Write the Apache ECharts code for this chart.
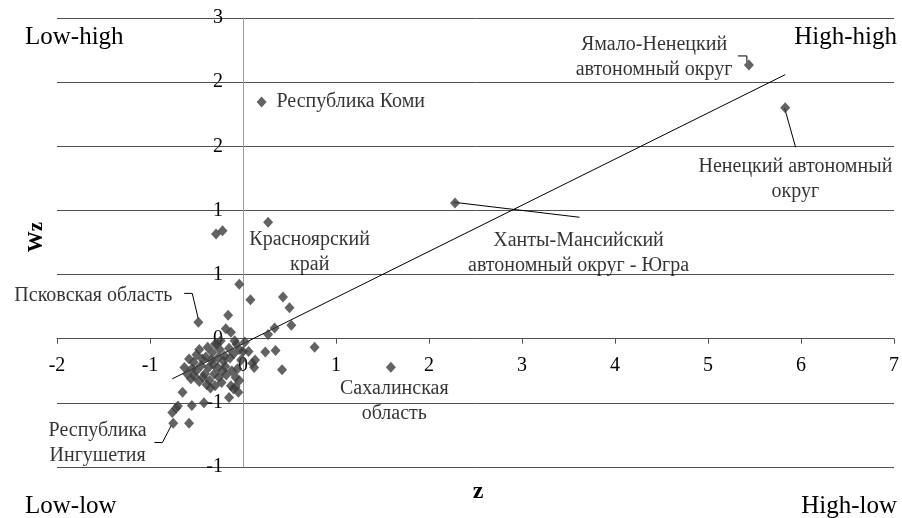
<!DOCTYPE html>
<html>
<head>
<meta charset="utf-8">
<script src="https://cdn.jsdelivr.net/npm/echarts@6/dist/echarts.min.js"></script>
<style>
html,body{margin:0;padding:0;background:#fff;}
#chart{width:902px;height:518px;}
</style>
</head>
<body>
<div id="chart"></div>
<script>
// ---- data ----
const zValues = [
  5.44, 5.83, 2.28, 0.20, 0.27, -0.48, 1.59, -0.75,
  -0.29, -0.22, -0.04, 0.08, 0.43, 0.50, 0.52, 0.34, 0.27,
  0.24, 0.35, 0.77, 0.42, 0.10, 0.13, 0.06,
  -0.16, -0.185, -0.13, -0.24, -0.07, -0.15, -0.04, -0.10,
  -0.47, -0.58, -0.63, -0.56, -0.40, -0.34, -0.37, -0.27, -0.41, -0.31, -0.26, -0.36, -0.30, -0.45, -0.50, -0.47,
  -0.20, -0.14, -0.19, -0.12, -0.06, -0.08, -0.04, -0.08, -0.13, -0.10, -0.15,
  -0.65, -0.55, -0.42, -0.72, -0.70, -0.76, -0.58,
  -0.53, -0.25, -0.33, -0.21, -0.02, 0.02, -0.38, -0.28, 0.12, -0.44, -0.52, -0.22, -0.09, -0.35,
  -0.50, -0.43, -0.32, -0.27, -0.18, -0.23, -0.39, -0.55, -0.60, 0.00, -0.05, -0.30
];
const wzValues = [
  2.56, 2.16, 1.27, 2.215, 1.09, 0.155, -0.266, -0.79,
  0.98, 1.01, 0.51, 0.365, 0.39, 0.29, 0.125, 0.10, 0.04,
  -0.125, -0.11, -0.08, -0.29, -0.23, -0.20, -0.12,
  0.22, 0.094, 0.06, -0.02, -0.05, -0.09, -0.10, -0.14,
  -0.10, -0.19, -0.27, -0.375, -0.17, -0.20, -0.27, -0.27, -0.33, -0.33, -0.36, -0.39, -0.44, -0.25, -0.30, -0.40,
  -0.16, -0.18, -0.26, -0.30, -0.28, -0.36, -0.39, -0.45, -0.44, -0.47, -0.55,
  -0.50, -0.625, -0.60, -0.65, -0.63, -0.69, -0.79,
  -0.22, -0.10, -0.13, -0.21, -0.20, -0.03, -0.08, -0.05, -0.27, -0.19, -0.35, -0.30, -0.02, -0.46,
  -0.15, -0.36, -0.24, -0.18, -0.34, -0.41, -0.43, -0.28, -0.33, -0.12, -0.50, -0.05
];
// trend line end points (z, Wz)
const trendZ = [-0.76, 5.83];
const trendWz = [-0.375, 2.47];

// labelled regions
const labelTexts = [
  'Ямало-Ненецкий\nавтономный округ',
  'Ненецкий автономный\nокруг',
  'Ханты-Мансийский\nавтономный округ - Югра',
  'Республика Коми',
  'Красноярский\nкрай',
  'Псковская область',
  'Сахалинская\nобласть',
  'Республика\nИнгушетия'
];
const labelZ = [4.42, 5.94, 3.608, 0.36, 0.717, -0.76, 1.627, -1.563];
const labelWz = [2.629, 1.492, 0.803, 2.213, 0.813, 0.405, -0.582, -0.974];
const labelAlign = ['center', 'center', 'center', 'left', 'center', 'right', 'center', 'center'];

// leader lines (z, Wz pairs)
const leaderLines = [
  [[5.322, 2.645], [5.418, 2.645], [5.418, 2.59]],
  [[5.824, 2.156], [5.942, 1.791]],
  [[2.27, 1.276], [3.619, 1.136]],
  [[-0.632, 0.424], [-0.546, 0.424], [-0.482, 0.19]],
  [[-0.953, -0.971], [-0.867, -0.971], [-0.771, -0.812]]
];

const xTicks = { min: -2, max: 7, step: 1 };
const yRange = { min: -1.2, max: 3, step: 0.6 };
const yTickLabels = ['-1', '-1', '0', '1', '1', '2', '2', '3'];
const quadrantLabels = ['Low-high', 'High-high', 'Low-low', 'High-low'];
const axisTitles = { x: 'z', y: 'Wz' };

// ---- chart ----
const FONT = '"Liberation Serif", "Times New Roman", serif';
const chart = echarts.init(document.getElementById('chart'), null, { renderer: 'canvas' });

const points = zValues.map((z, i) => [z, wzValues[i]]);
const labelData = labelTexts.map((t, i) => ({
  value: [labelZ[i], labelWz[i]],
  name: t,
  label: { align: labelAlign[i] }
}));

const leaderSeries = leaderLines.map(pts => ({
  type: 'line',
  data: pts,
  symbol: 'none',
  silent: true,
  lineStyle: { color: '#000', width: 1 },
  z: 3
}));

const option = {
  animation: false,
  backgroundColor: '#fff',
  grid: { left: 57, right: 5, top: 18, bottom: 51 },
  xAxis: {
    type: 'value',
    min: xTicks.min, max: xTicks.max, interval: xTicks.step,
    axisLine: { onZero: false, lineStyle: { color: '#505050', width: 1 } },
    axisTick: { show: true, length: 5, lineStyle: { color: '#505050' } },
    axisLabel: { color: '#000', fontFamily: FONT, fontSize: 20, margin: 17 },
    splitLine: { show: false }
  },
  yAxis: {
    type: 'value',
    min: yRange.min, max: yRange.max, interval: yRange.step,
    axisLine: { show: true, onZero: false, lineStyle: { color: '#9a9a9a', width: 1 } },
    axisTick: { show: false },
    axisLabel: {
      color: '#000', fontFamily: FONT, fontSize: 20, margin: 20,
      formatter: (v, idx) => yTickLabels[idx]
    },
    splitLine: { show: true, lineStyle: { color: '#505050', width: 1 } }
  },
  series: [
    {
      type: 'line',
      data: trendZ.map((z, i) => [z, trendWz[i]]),
      symbol: 'none',
      silent: true,
      lineStyle: { color: '#000', width: 1 },
      z: 2
    },
    ...leaderSeries,
    {
      type: 'scatter',
      data: points,
      symbol: 'diamond',
      symbolSize: [10, 11],
      itemStyle: { color: '#3c3c3c' },
      z: 4
    },
    {
      type: 'scatter',
      data: labelData,
      symbolSize: 0,
      silent: true,
      label: {
        show: true,
        position: 'inside',
        distance: 0,
        formatter: p => p.name,
        color: '#000',
        fontFamily: FONT,
        fontSize: 20,
        lineHeight: 25,
        verticalAlign: 'middle'
      },
      z: 5
    }
  ],
  graphic: [
    { type: 'text', left: 25, top: 25, style: { text: quadrantLabels[0], font: '25px ' + FONT, fill: '#000' } },
    { type: 'text', right: 5, top: 25, style: { text: quadrantLabels[1], font: '25px ' + FONT, fill: '#000' } },
    { type: 'text', left: 25, top: 494, style: { text: quadrantLabels[2], font: '25px ' + FONT, fill: '#000' } },
    { type: 'text', right: 5, top: 494, style: { text: quadrantLabels[3], font: '25px ' + FONT, fill: '#000' } },
    { type: 'text', x: 37, y: 237, rotation: Math.PI / 2,
      style: { text: axisTitles.y, font: 'bold 21px ' + FONT, fill: '#000', align: 'center', verticalAlign: 'middle' } },
    { type: 'text', x: 478, y: 492,
      style: { text: axisTitles.x, font: 'bold 24px ' + FONT, fill: '#000', align: 'center', verticalAlign: 'middle' } }
  ]
};
chart.setOption(option);

// move both axes (line, ticks, labels) to cross at the origin, like the reference
const origin = chart.convertToPixel({ gridIndex: 0 }, [0, 0]);
const corner = chart.convertToPixel({ gridIndex: 0 }, [xTicks.min, yRange.min]);
chart.setOption({
  xAxis: { offset: origin[1] - corner[1] },
  yAxis: { offset: corner[0] - origin[0] }
});
</script>
</body>
</html>
